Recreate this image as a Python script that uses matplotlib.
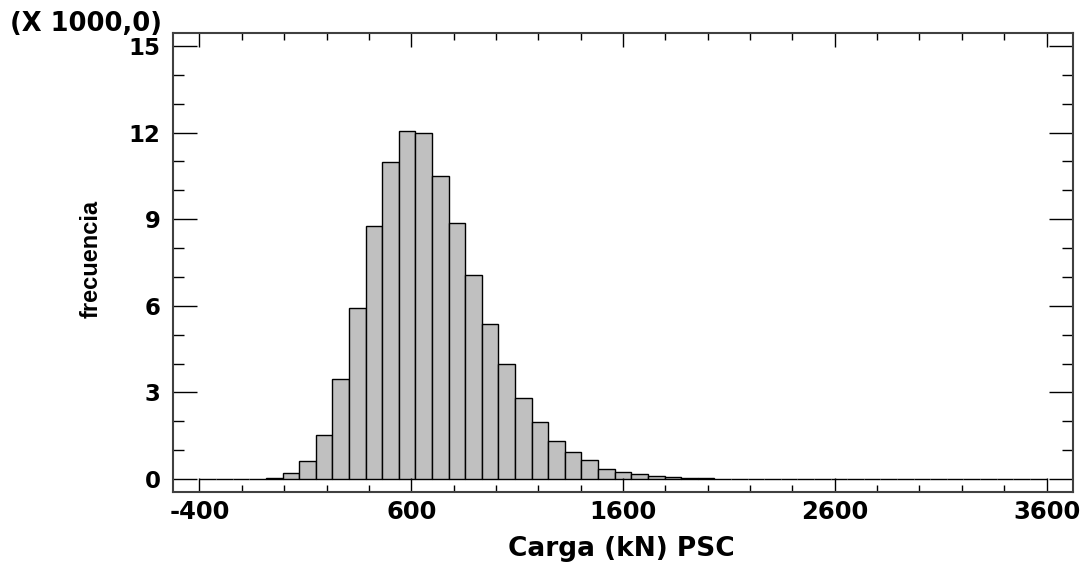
import numpy as np
import matplotlib
matplotlib.use("Agg")
import matplotlib.pyplot as plt
from matplotlib.ticker import MultipleLocator, FixedLocator, FixedFormatter

# Data: histogram of load (kN), 51 bins from -400 to 3600
bin_lo, bin_hi, n_bins = -400, 3600, 51
counts = [0, 0, 0, 0, 40, 210, 620, 1530, 3480, 5910,
          8770, 10970, 12060, 11990, 10510, 8860, 7060, 5380, 3985, 2800,
          1980, 1330, 940, 645, 360, 230, 160, 100, 65, 25,
          20] + [0] * 20
x_ticks = [-400, 600, 1600, 2600, 3600]
x_labels = ["-400", "600", "1600", "2600", "3600"]
y_ticks = [0, 3000, 6000, 9000, 12000, 15000]
y_labels = ["0", "3", "6", "9", "12", "15"]

edges = np.linspace(bin_lo, bin_hi, n_bins + 1)
width = edges[1] - edges[0]

W, H = 1089, 562
fig = plt.figure(figsize=(W / 100, H / 100), dpi=100)
ax = fig.add_axes([173 / W, 70 / H, 900 / W, 459 / H])

ax.bar(edges[:-1], counts, width=width, align="edge",
       color="#c0c0c0", edgecolor="black", linewidth=1.0)

ax.set_xlim(-525, 3725)
ax.set_ylim(-450, 15450)

ax.xaxis.set_major_locator(FixedLocator(x_ticks))
ax.xaxis.set_major_formatter(FixedFormatter(x_labels))
ax.xaxis.set_minor_locator(MultipleLocator(200))
ax.yaxis.set_major_locator(FixedLocator(y_ticks))
ax.yaxis.set_major_formatter(FixedFormatter(y_labels))
ax.yaxis.set_minor_locator(MultipleLocator(1000))

ax.tick_params(axis="both", which="both", direction="in",
               top=True, right=True, color="black", width=1.0)
ax.tick_params(axis="x", which="major", length=10, pad=6)
ax.tick_params(axis="x", which="minor", length=5)
ax.tick_params(axis="y", which="major", length=17, pad=9)
ax.tick_params(axis="y", which="minor", length=8)

for lbl in ax.get_xticklabels():
    lbl.set_fontfamily("DejaVu Sans")
    lbl.set_fontweight("bold")
    lbl.set_fontsize(17.5)
for lbl in ax.get_yticklabels():
    lbl.set_fontfamily("DejaVu Sans")
    lbl.set_fontweight("bold")
    lbl.set_fontsize(16.5)

for sp in ax.spines.values():
    sp.set_color("#404040")
    sp.set_linewidth(1.5)

fig.text(621 / W, 1 - 556 / H, "Carga (kN) PSC", ha="center", va="baseline",
         family="DejaVu Sans", weight="bold", size=19)
fig.text(91.5 / W, 1 - 258.5 / H, "frecuencia", ha="center", va="center",
         rotation=90, family="Liberation Sans", weight="bold", size=17)
fig.text(10 / W, 1 - 31 / H, "(X 1000,0)", ha="left", va="baseline",
         family="DejaVu Sans", weight="bold", size=18.5)

fig.savefig("out.png", dpi=100, facecolor="white")
